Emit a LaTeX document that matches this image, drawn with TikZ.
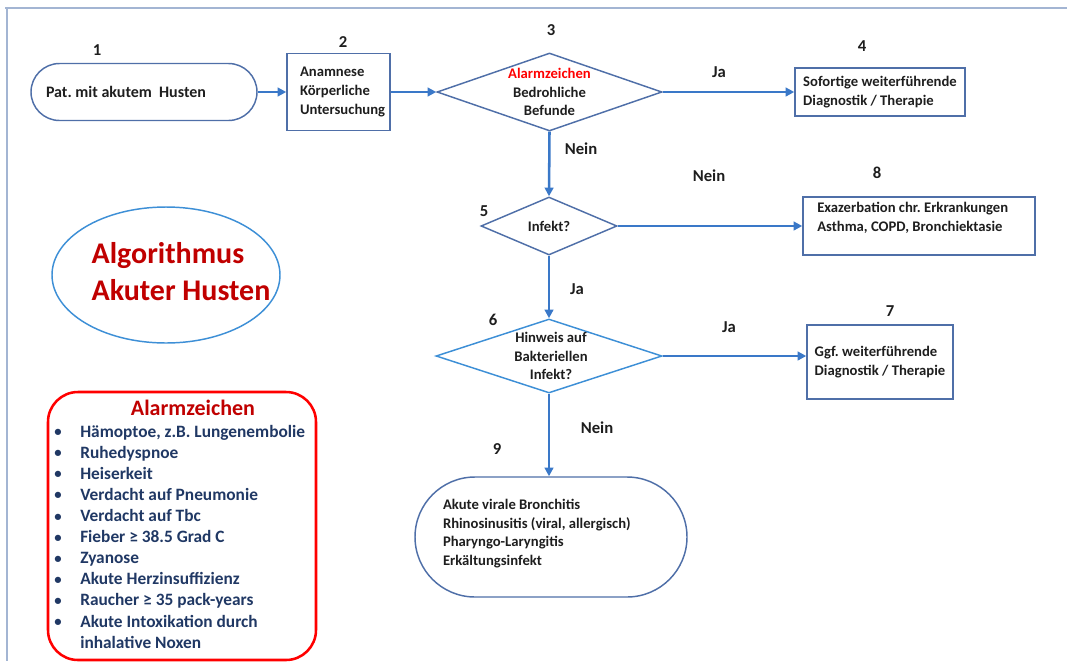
\documentclass[tikz,border=0pt]{standalone}
\usepackage{fontspec}
\setmainfont{Carlito}
\usetikzlibrary{shapes.geometric,arrows.meta}
\definecolor{framec}{HTML}{A3B5D3}
\definecolor{boxc}{HTML}{4F6FA8}
\definecolor{liteb}{HTML}{3D8FD6}
\definecolor{arrc}{HTML}{3A78C8}
\definecolor{txtc}{HTML}{1E1E1E}
\definecolor{navy}{HTML}{203864}
\definecolor{darkred}{HTML}{C00000}
\frenchspacing
\begin{document}
\begin{tikzpicture}[x=0.75pt,y=-0.75pt,
  font={\fontsize{11}{13.9}\selectfont\bfseries\frenchspacing}, text=txtc,
  box/.style={draw=boxc, line width=1.1pt, inner sep=0pt, align=flush left},
  dia/.style={diamond, draw=boxc, line width=1.1pt, inner sep=0pt},
  arr/.style={draw=arrc, line width=1.9pt, -{Triangle[length=6.5pt,width=6.5pt]}},
  lbl/.style={font={\fontsize{12.5}{14}\selectfont\bfseries}},
  ttext/.style={align=center, inner sep=0pt}
]
\useasboundingbox (0,0) rectangle (1067,661);
% frame
\draw[framec, line width=1.5pt] (5,8) -- (1067,8);
\draw[framec, line width=1.5pt] (7,8) -- (7,661);

% main flow
\node[box, rounded corners=21.4pt, minimum width=169.5pt, minimum height=42.75pt,
      text width=147pt, inner xsep=11.25pt, font={\fontsize{12}{14}\selectfont\bfseries}] (n1) at (144,92) {Pat. mit akutem\ \ Husten};
\node[box, minimum width=77.25pt, minimum height=57.75pt, text width=57.75pt, inner xsep=9.75pt] (n2) at (338.5,92)
      {Anamnese\\Körperliche\\Untersuchung};
\node[dia, minimum width=168.75pt, minimum height=58.5pt] (n3) at (549.5,92) {};
\node[ttext] (t3) at (n3.center) {\textcolor{red}{Alarmzeichen}\\Bedrohliche\\Befunde};
\node[box, minimum width=127.5pt, minimum height=36pt] (n4) at (880,92)
      {Sofortige weiterführende\\Diagnostik / Therapie};
\node[dia, minimum width=102pt, minimum height=43.5pt] (n5) at (549,226) {};
\node[ttext] (t5) at (n5.center) {Infekt?};
\node[box, minimum width=174pt, minimum height=43.5pt] (n8) at (919,226) {};
\node[align=flush left, anchor=west, inner sep=0pt] (t8) at (817,218)
      {Exazerbation chr. Erkrankungen\\Asthma, COPD, Bronchiektasie};
\node[dia, draw=liteb, minimum width=169.5pt, minimum height=55.5pt] (n6) at (549,356) {};
\node[ttext] (t6) at (551,356) {Hinweis auf\\Bakteriellen\\Infekt?};
\node[box, minimum width=109.5pt, minimum height=55.5pt] (n7) at (880,362)
      {Ggf. weiterführende\\Diagnostik / Therapie};
\node[box, rounded corners=45pt, minimum width=204pt, minimum height=90pt,
      text width=162pt, inner xsep=21pt] (n9) at (551,537)
      {Akute virale Bronchitis\\Rhinosinusitis (viral, allergisch)\\Pharyngo-Laryngitis\\Erkältungsinfekt\rule[-7pt]{0pt}{7pt}};

% numbers
\node[lbl] (l1) at (97,50) {1};
\node[lbl] (l2) at (343,42) {2};
\node[lbl] (l3) at (551,30) {3};
\node[lbl] (l4) at (862,46) {4};
\node[lbl] (l5) at (484,211) {5};
\node[lbl] (l6) at (493,320) {6};
\node[lbl] (l7) at (890,311) {7};
\node[lbl] (l8) at (877,173) {8};
\node[lbl] (l9) at (497,449) {9};

% connectors
\draw[arr] (n1.east) -- (n2.west);
\draw[arr] (n2.east) -- (n3.west);
\draw[arr] (n3.east) -- (n4.west);
\draw[arr] (n3.south) -- (n5.north);
\draw[arr] (n5.east) -- (n8.west);
\draw[arr] (n5.south) -- (n6.north);
\draw[arr] (n6.east) -- (n6.east -| n7.west);
\draw[arr] (n6.south) -- (n6.south |- n9.north);

% connector labels
\node[lbl] (ja1) at (719,72) {Ja};
\node[lbl] (nein1) at (581,149) {Nein};
\node[lbl] (nein2) at (709,176) {Nein};
\node[lbl] (ja2) at (577,289) {Ja};
\node[lbl] (ja3) at (729,327) {Ja};
\node[lbl] (nein3) at (597,428) {Nein};

% title ellipse
\node[ellipse, draw=liteb, line width=1.1pt, minimum width=171pt, minimum height=102pt, inner sep=0pt] (ell) at (166,275) {};
\node[align=flush left, inner sep=0pt, text=darkred, font={\fontsize{22.5}{27.75}\selectfont\bfseries}] (ttl) at (181,272)
      {Algorithmus\\Akuter Husten};

% alarm box
\node[draw=red, line width=1.9pt, rounded corners=22.5pt, minimum width=201pt, minimum height=201pt, inner sep=0pt] (alarm) at (182,526) {};
\node[text=darkred, inner sep=0pt, font={\fontsize{16.5}{18}\selectfont\bfseries}] (atitle) at (193,408) {Alarmzeichen};
\node[text=navy, align=flush left, anchor=north west, inner sep=0pt, font={\fontsize{13}{15.8}\selectfont\bfseries}] (alist) at (54,425)
{\makebox[19.5pt][l]{\raisebox{0.5pt}{\scalebox{0.85}{•}}}Hämoptoe, z.B. Lungenembolie\\
 \makebox[19.5pt][l]{\raisebox{0.5pt}{\scalebox{0.85}{•}}}Ruhedyspnoe\\
 \makebox[19.5pt][l]{\raisebox{0.5pt}{\scalebox{0.85}{•}}}Heiserkeit\\
 \makebox[19.5pt][l]{\raisebox{0.5pt}{\scalebox{0.85}{•}}}Verdacht auf Pneumonie\\
 \makebox[19.5pt][l]{\raisebox{0.5pt}{\scalebox{0.85}{•}}}Verdacht auf Tbc\\
 \makebox[19.5pt][l]{\raisebox{0.5pt}{\scalebox{0.85}{•}}}Fieber ≥ 38.5 Grad C\\
 \makebox[19.5pt][l]{\raisebox{0.5pt}{\scalebox{0.85}{•}}}Zyanose\\
 \makebox[19.5pt][l]{\raisebox{0.5pt}{\scalebox{0.85}{•}}}Akute Herzinsuffizienz\\
 \makebox[19.5pt][l]{\raisebox{0.5pt}{\scalebox{0.85}{•}}}Raucher ≥ 35 pack-years\\
 \makebox[19.5pt][l]{\raisebox{0.5pt}{\scalebox{0.85}{•}}}Akute Intoxikation durch\\
 \hspace*{19.5pt}inhalative Noxen};
\end{tikzpicture}
\end{document}
